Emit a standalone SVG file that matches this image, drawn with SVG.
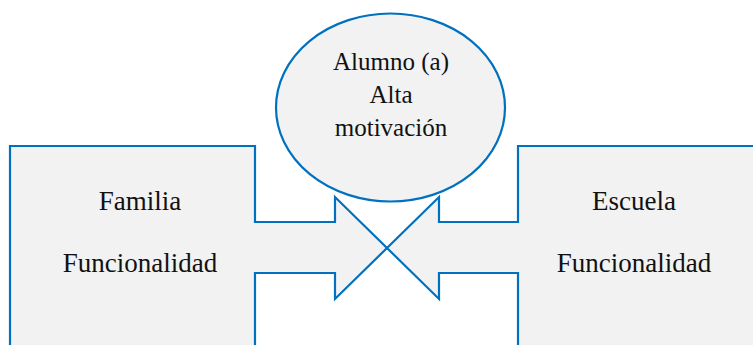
<svg xmlns="http://www.w3.org/2000/svg" width="753" height="345" viewBox="0 0 753 345">
<style>
.shape{fill:#f2f2f2;stroke:#0070c0;stroke-width:2.2;stroke-linejoin:miter}
.t{font-family:"Liberation Serif","Times New Roman",serif;fill:#111;text-anchor:middle}
.big{font-size:27px}
.small{font-size:25px}
</style>
<rect width="753" height="345" fill="#ffffff"/>
<g id="familia">
<polygon class="shape" points="10,146 255,146 255,222 335,222 335,197 387,248 335,299 335,273 255,273 255,352 10,352"/>
<text class="t big" x="140" y="210">Familia</text>
<text class="t big" x="140" y="272">Funcionalidad</text>
</g>
<g id="escuela">
<polygon class="shape" points="760,146 518,146 518,222 439,222 439,197 387,248 439,299 439,273 518,273 518,352 760,352"/>
<text class="t big" x="634" y="210">Escuela</text>
<text class="t big" x="634" y="272">Funcionalidad</text>
</g>
<g id="alumno">
<ellipse class="shape" cx="390.5" cy="107.5" rx="114.5" ry="94"/>
<text class="t small" x="391" y="70">Alumno (a)</text>
<text class="t small" x="391" y="103">Alta</text>
<text class="t small" x="391" y="136">motivación</text>
</g>
<g id="connectors"></g>
</svg>
